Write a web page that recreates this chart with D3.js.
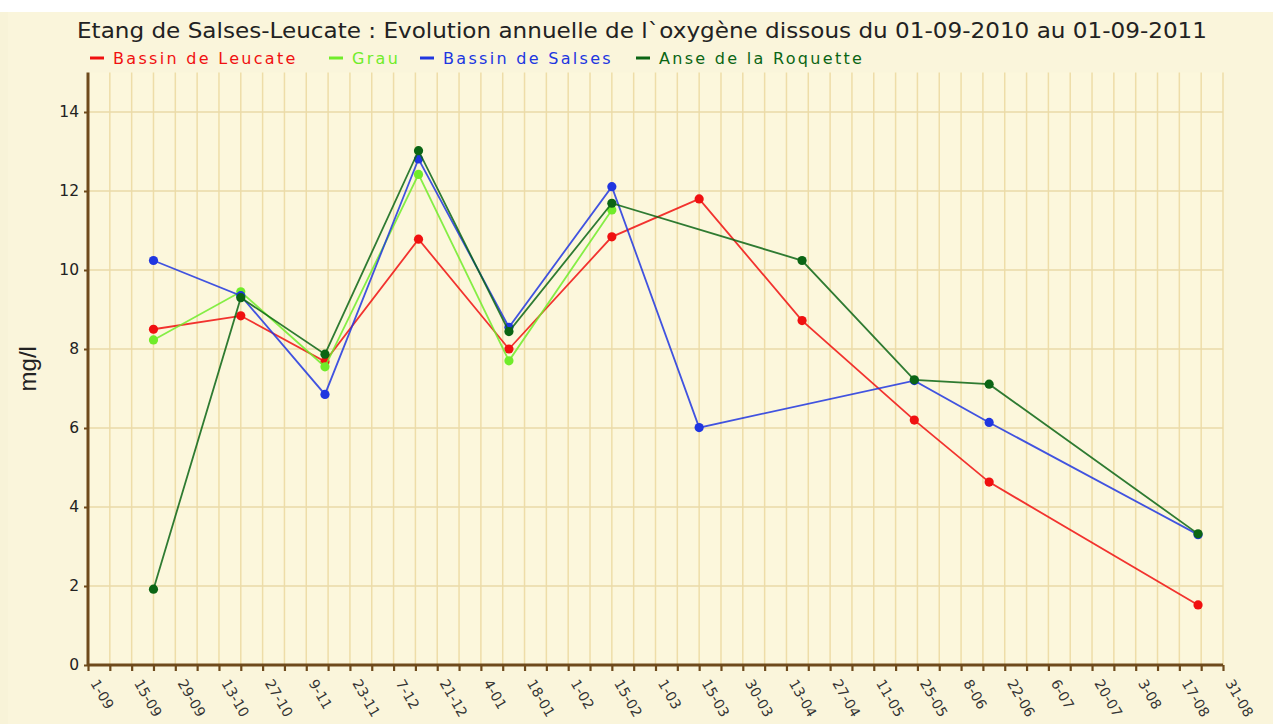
<!DOCTYPE html>
<html>
<head>
<meta charset="utf-8">
<script src="https://cdn.jsdelivr.net/npm/d3@7"></script>
<style>
  html, body { margin: 0; padding: 0; background: #ffffff; }
  svg { display: block; }
</style>
</head>
<body>
<svg id="chart" width="1273" height="724"></svg>
<script>
// ---- Data ----
const chartTitle = "Etang de Salses-Leucate : Evolution annuelle de l`oxygène dissous du 01-09-2010 au 01-09-2011";
const yLabel = "mg/l";
const seriesNames = ["Bassin de Leucate", "Grau", "Bassin de Salses", "Anse de la Roquette"];
const seriesColors = ["#f01010", "#70ec2a", "#2036e0", "#0b6514"];

const leucateDates = ["2010-09-22","2010-10-20","2010-11-16","2010-12-16","2011-01-14","2011-02-16","2011-03-16","2011-04-18","2011-05-24","2011-06-17","2011-08-23"];
const leucateValues = [8.50, 8.84, 7.68, 10.78, 8.00, 10.84, 11.80, 8.72, 6.20, 4.63, 1.52];

const grauDates = ["2010-09-22","2010-10-20","2010-11-16","2010-12-16","2011-01-14","2011-02-16"];
const grauValues = [8.23, 9.45, 7.55, 12.42, 7.70, 11.52];

const salsesDates = ["2010-09-22","2010-10-20","2010-11-16","2010-12-16","2011-01-14","2011-02-16","2011-03-16","2011-05-24","2011-06-17","2011-08-23"];
const salsesValues = [10.24, 9.35, 6.85, 12.81, 8.55, 12.11, 6.01, 7.20, 6.14, 3.30];

const roquetteDates = ["2010-09-22","2010-10-20","2010-11-16","2010-12-16","2011-01-14","2011-02-16","2011-04-18","2011-05-24","2011-06-17","2011-08-23"];
const roquetteValues = [1.92, 9.30, 7.87, 13.02, 8.44, 11.69, 10.24, 7.22, 7.11, 3.32];

const xTickLabels = ["1-09","15-09","29-09","13-10","27-10","9-11","23-11","7-12","21-12","4-01","18-01","1-02","15-02","1-03","15-03","30-03","13-04","27-04","11-05","25-05","8-06","22-06","6-07","20-07","3-08","17-08","31-08"];
const yTicks = [0, 2, 4, 6, 8, 10, 12, 14];
const xStart = "2010-09-01";
const xEnd = "2011-08-31";

// ---- Build ----
const parse = d3.utcParse("%Y-%m-%d");
const series = [
  {name: seriesNames[0], color: seriesColors[0], pts: leucateDates.map((d,i)=>({d: parse(d), v: leucateValues[i]}))},
  {name: seriesNames[1], color: seriesColors[1], pts: grauDates.map((d,i)=>({d: parse(d), v: grauValues[i]}))},
  {name: seriesNames[2], color: seriesColors[2], pts: salsesDates.map((d,i)=>({d: parse(d), v: salsesValues[i]}))},
  {name: seriesNames[3], color: seriesColors[3], pts: roquetteDates.map((d,i)=>({d: parse(d), v: roquetteValues[i]}))}
];

const svg = d3.select("#chart");
const W = 1273, H = 724;
const plot = {left: 88, right: 1223, top: 72.5, bottom: 665};

// background
svg.append("rect").attr("x", 0).attr("y", 12).attr("width", W).attr("height", H - 12).attr("fill", "#f8f3d8");
svg.append("rect").attr("x", 8).attr("y", 12).attr("width", W - 8).attr("height", H - 12).attr("fill", "#faf5db");
svg.append("rect").attr("x", plot.left).attr("y", plot.top)
  .attr("width", plot.right - plot.left).attr("height", plot.bottom - plot.top).attr("fill", "#fcf7dc");

const x = d3.scaleUtc().domain([parse(xStart), parse(xEnd)]).range([plot.left, plot.right]);
const y = d3.scaleLinear().domain([0, 15]).range([plot.bottom, plot.top]);

const day = 24 * 3600 * 1000;
const weekTicks = d3.range(0, 53).map(i => new Date(parse(xStart).getTime() + i * 7 * day));
const labelTicks = xTickLabels.map((l, i) => ({d: new Date(parse(xStart).getTime() + i * 14 * day), l}));

// grid
const grid = svg.append("g");
grid.selectAll("line.v").data(weekTicks.slice(1)).join("line")
  .attr("x1", d => x(d)).attr("x2", d => x(d))
  .attr("y1", plot.top).attr("y2", plot.bottom)
  .attr("stroke", "#eedda8").attr("stroke-width", 1.5);
grid.selectAll("line.h").data(yTicks.slice(1)).join("line")
  .attr("x1", plot.left).attr("x2", plot.right)
  .attr("y1", d => y(d)).attr("y2", d => y(d))
  .attr("stroke", "#eadaa8").attr("stroke-width", 1.6);

// axes
const axisColor = "#6e4a1c";
const yAxis = svg.append("g").attr("transform", `translate(${plot.left},0)`)
  .call(d3.axisLeft(y).tickValues(yTicks).tickSize(4).tickPadding(5).tickFormat(d3.format("d")));
yAxis.select(".domain").attr("stroke", axisColor).attr("stroke-width", 3).attr("d", `M0,${plot.top}V${plot.bottom}`);
yAxis.selectAll(".tick line").attr("stroke", axisColor).attr("stroke-width", 2);
yAxis.selectAll(".tick text").attr("font-family", "DejaVu Sans, Verdana, sans-serif").attr("font-size", 15.5).attr("fill", "#222");

const xAxis = svg.append("g").attr("transform", `translate(0,${plot.bottom})`)
  .call(d3.axisBottom(x).tickValues(weekTicks).tickSize(6).tickFormat(""));
xAxis.select(".domain").attr("stroke", axisColor).attr("stroke-width", 3).attr("d", `M${plot.left},0H${plot.right}`);
xAxis.selectAll(".tick line").attr("stroke", axisColor).attr("stroke-width", 2.2);

svg.append("g").selectAll("text").data(labelTicks).join("text")
  .attr("transform", d => `translate(${x(d.d) + 2},${plot.bottom + 18}) rotate(60)`)
  .attr("font-family", "DejaVu Sans, Verdana, sans-serif").attr("font-size", 14)
  .attr("fill", "#333").attr("text-anchor", "start")
  .text(d => d.l);

// y label
svg.append("text")
  .attr("transform", `translate(36,${(plot.top + plot.bottom) / 2}) rotate(-90)`)
  .attr("text-anchor", "middle")
  .attr("font-family", "Liberation Sans, Arial, sans-serif").attr("font-size", 24)
  .attr("fill", "#222").text(yLabel);

// title
svg.append("text").attr("x", 642).attr("y", 38).attr("text-anchor", "middle")
  .attr("font-family", "DejaVu Sans, Verdana, sans-serif").attr("font-size", 22)
  .attr("textLength", 1130).attr("lengthAdjust", "spacingAndGlyphs")
  .attr("fill", "#222").text(chartTitle);

// legend
const legendPos = [90, 329, 420, 636];
const lg = svg.append("g");
series.forEach((s, i) => {
  lg.append("line").attr("x1", legendPos[i]).attr("x2", legendPos[i] + 14)
    .attr("y1", 58).attr("y2", 58).attr("stroke", s.color).attr("stroke-width", 3);
  lg.append("text").attr("x", legendPos[i] + 23).attr("y", 64)
    .attr("font-family", "DejaVu Sans, Verdana, sans-serif").attr("font-size", 16)
    .attr("letter-spacing", 2.3).attr("fill", s.color).text(s.name);
});

// lines and points
const line = d3.line().x(p => x(p.d)).y(p => y(p.v));
series.forEach(s => {
  const g = svg.append("g");
  g.append("path").datum(s.pts).attr("d", line)
    .attr("fill", "none").attr("stroke", s.color).attr("stroke-width", 1.8).attr("stroke-opacity", 0.85);
  g.selectAll("circle").data(s.pts).join("circle")
    .attr("cx", p => x(p.d)).attr("cy", p => y(p.v)).attr("r", 4.6)
    .attr("fill", s.color);
});
</script>
</body>
</html>
